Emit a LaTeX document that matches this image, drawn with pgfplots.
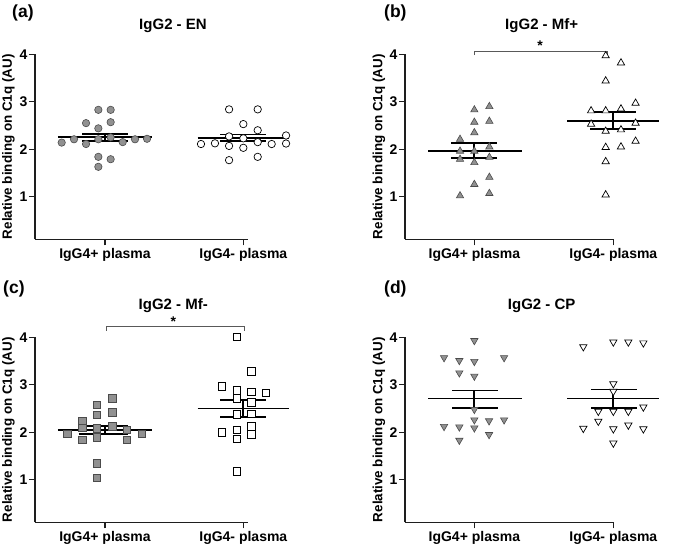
\documentclass[border=0pt]{standalone}
\usepackage{pgfplots}
\pgfplotsset{compat=1.18}
\usepackage{fontspec}
\setmainfont{Liberation Sans}
\definecolor{mfill}{RGB}{145,145,145}
\definecolor{medge}{RGB}{75,75,75}
\definecolor{axcol}{RGB}{30,30,30}
\pgfplotsset{
  panel/.style={
    scale only axis, height=185pt, ymin=0.103, ymax=4,
    axis lines=left, axis line style={-, line width=1.1pt, axcol},
    xtick={1,2}, xticklabels={IgG4+ plasma, IgG4- plasma}, ytick={1,2,3,4},
    tick align=outside, major tick length=6pt, tick style={line width=1.1pt, axcol},
    ticklabel style={font=\fontsize{14}{16}\selectfont\bfseries},
    yticklabel style={inner xsep=1.5pt},
    /pgf/number format/assume math mode=true,
    ylabel={Relative binding on C1q (AU)},
    ylabel style={font=\fontsize{13.4}{15}\selectfont\bfseries, at={(axis description cs:-0.125,0.5)}, anchor=center},
    clip=false,
  },
  meanline/.style={black, line width=1.9pt, no marks},
  gcirc/.style={only marks, mark=*, mark size=3.7pt, mark options={fill=mfill, draw=medge, line width=0.6pt}},
  wcirc/.style={only marks, mark=*, mark size=3.7pt, mark options={fill=white, draw=black, line width=0.7pt}},
  gtri/.style={only marks, mark=triangle*, mark size=4.2pt, mark options={fill=mfill, draw=medge, line width=0.6pt}},
  wtri/.style={only marks, mark=triangle*, mark size=4.2pt, mark options={fill=white, draw=black, line width=0.7pt}},
  gsq/.style={only marks, mark=square*, mark size=3.8pt, mark options={fill=mfill, draw=medge, line width=0.6pt}},
  wsq/.style={only marks, mark=square*, mark size=3.8pt, mark options={fill=white, draw=black, line width=0.7pt}},
  gdtri/.style={only marks, mark=triangle*, mark size=4.2pt, mark options={rotate=180, fill=mfill, draw=medge, line width=0.6pt}},
  wdtri/.style={only marks, mark=triangle*, mark size=4.2pt, mark options={rotate=180, fill=white, draw=black, line width=0.7pt}},
  bracket/.style={gray!70!black, line width=0.8pt, no marks},
}
\begin{document}
\begin{tikzpicture}
\path[use as bounding box] (0,0) rectangle (685pt,547pt);
% ---------------- (a)
\begin{axis}[panel, at={(35pt,307.7pt)}, anchor=south west, width=213.3pt, xmin=0.494, xmax=2.036]
\addplot[gcirc] coordinates {(0.687,2.14)(0.776,2.21)(0.863,2.11)(0.863,2.55)(0.952,2.83)(0.952,2.44)(0.952,2.21)(0.952,1.84)(0.952,1.63)(1.041,2.83)(1.041,2.57)(1.041,2.25)(1.041,1.79)(1.128,2.15)(1.217,2.21)(1.304,2.22)};
\addplot[wcirc] coordinates {(1.694,2.11)(1.795,2.125)(1.897,2.84)(1.897,2.27)(1.897,2.07)(1.897,1.77)(2.0,2.53)(2.0,2.23)(2.0,2.03)(2.104,2.84)(2.104,2.40)(2.104,2.15)(2.104,1.84)(2.205,2.11)(2.309,2.29)(2.309,2.12)};
\addplot[meanline] coordinates {(0.66,2.25)(1.34,2.25)};
\addplot[meanline] coordinates {(0.835,2.33)(1.165,2.33)};
\addplot[meanline] coordinates {(0.835,2.17)(1.165,2.17)};
\addplot[meanline] coordinates {(1,2.17)(1,2.33)};
\addplot[meanline] coordinates {(1.67,2.24)(2.33,2.24)};
\addplot[meanline] coordinates {(1.835,2.31)(2.165,2.31)};
\addplot[meanline] coordinates {(1.835,2.17)(2.165,2.17)};
\addplot[meanline] coordinates {(2,2.17)(2,2.31)};
\end{axis}
% ---------------- (b)
\begin{axis}[panel, at={(405pt,307.7pt)}, anchor=south west, width=209.3pt, xmin=0.501, xmax=2.007]
\addplot[gtri] coordinates {(0.897,2.21)(0.897,1.96)(0.897,1.79)(0.897,1.02)(1,2.83)(1,2.57)(1,2.35)(1,1.96)(1,1.72)(1,1.26)(1.108,2.90)(1.108,2.59)(1.108,2.05)(1.108,1.83)(1.108,1.41)(1.108,1.07)};
\addplot[wtri] coordinates {(1.945,3.97)(2.055,3.82)(1.945,3.44)(1.84,2.81)(1.84,2.53)(1.945,2.81)(1.945,2.38)(1.945,2.04)(1.945,1.74)(1.945,1.04)(2.055,2.85)(2.055,2.41)(2.055,2.05)(2.16,2.97)(2.16,2.55)(2.16,2.17)};
\addplot[meanline] coordinates {(0.67,1.97)(1.34,1.97)};
\addplot[meanline] coordinates {(0.835,2.125)(1.165,2.125)};
\addplot[meanline] coordinates {(0.835,1.82)(1.165,1.82)};
\addplot[meanline] coordinates {(1,1.82)(1,2.125)};
\addplot[meanline] coordinates {(1.67,2.60)(2.33,2.60)};
\addplot[meanline] coordinates {(1.835,2.79)(2.165,2.79)};
\addplot[meanline] coordinates {(1.835,2.42)(2.165,2.42)};
\addplot[meanline] coordinates {(2,2.42)(2,2.79)};
\addplot[bracket] coordinates {(1,3.985)(1,4.055)(1.955,4.055)(1.955,3.985)};
\node[font=\fontsize{14}{16}\selectfont\bfseries] at (axis cs:1.473,4.19) {*};
\end{axis}
% ---------------- (c)
\begin{axis}[panel, at={(35pt,24.7pt)}, anchor=south west, width=213.3pt, xmin=0.494, xmax=2.036]
\addplot[gsq] coordinates {(0.727,1.97)(0.836,2.24)(0.836,2.09)(0.836,1.84)(0.942,2.58)(0.942,2.37)(0.942,2.08)(0.942,1.89)(0.942,1.34)(0.942,1.04)(1.051,2.72)(1.051,2.42)(1.051,2.12)(1.157,2.05)(1.157,1.84)(1.265,1.97)};
\addplot[wsq] coordinates {(1.952,4.01)(2.056,3.28)(1.844,2.97)(1.952,2.88)(1.952,2.72)(1.952,2.38)(1.952,2.05)(1.952,1.86)(1.952,1.17)(2.056,2.85)(2.056,2.63)(2.056,2.39)(2.056,2.12)(2.056,1.96)(1.844,2.0)(2.164,2.83)};
\addplot[meanline] coordinates {(0.66,2.04)(1.34,2.04)};
\addplot[meanline] coordinates {(0.81,2.13)(1.165,2.13)};
\addplot[meanline] coordinates {(0.81,1.955)(1.165,1.955)};
\addplot[meanline] coordinates {(1,1.955)(1,2.13)};
\addplot[meanline] coordinates {(1.67,2.50)(2.33,2.50)};
\addplot[meanline] coordinates {(1.835,2.67)(2.165,2.67)};
\addplot[meanline] coordinates {(1.835,2.33)(2.165,2.33)};
\addplot[meanline] coordinates {(2,2.33)(2,2.67)};
\addplot[bracket] coordinates {(1.007,4.14)(1.007,4.22)(2.01,4.22)(2.01,4.14)};
\node[font=\fontsize{14}{16}\selectfont\bfseries] at (axis cs:1.494,4.33) {*};
\end{axis}
% ---------------- (d)
\begin{axis}[panel, at={(405pt,24.7pt)}, anchor=south west, width=209.3pt, xmin=0.501, xmax=2.007]
\addplot[gdtri] coordinates {(0.782,3.57)(0.782,2.12)(0.892,3.51)(0.892,3.25)(0.892,2.11)(0.892,1.83)(1,3.93)(1,3.49)(1,3.18)(1,2.48)(1,2.26)(1,2.09)(1.106,2.24)(1.106,1.95)(1.214,3.57)(1.214,2.26)};
\addplot[wdtri] coordinates {(1.784,3.80)(1.784,2.08)(1.892,2.44)(1.892,2.23)(2,3.90)(2,3.02)(2,2.86)(2,2.44)(2,2.07)(2,1.77)(2.108,3.90)(2.108,2.44)(2.108,2.15)(2.216,3.88)(2.216,2.53)(2.216,2.07)};
\addplot[meanline] coordinates {(0.67,2.71)(1.34,2.71)};
\addplot[meanline] coordinates {(0.84,2.88)(1.17,2.88)};
\addplot[meanline] coordinates {(0.84,2.52)(1.17,2.52)};
\addplot[meanline] coordinates {(1,2.52)(1,2.88)};
\addplot[meanline] coordinates {(1.67,2.71)(2.33,2.71)};
\addplot[meanline] coordinates {(1.84,2.90)(2.17,2.90)};
\addplot[meanline] coordinates {(1.84,2.51)(2.17,2.51)};
\addplot[meanline] coordinates {(2,2.51)(2,2.90)};
\end{axis}
% ---------------- titles and panel labels
\begin{scope}[every node/.style={inner sep=0pt}]
\node[anchor=base west, font=\fontsize{17.5}{19}\selectfont\bfseries] at (12pt,529.9pt) {(a)};
\node[anchor=base west, font=\fontsize{17.5}{19}\selectfont\bfseries] at (384pt,529.9pt) {(b)};
\node[anchor=base west, font=\fontsize{17.5}{19}\selectfont\bfseries] at (3pt,253.7pt) {(c)};
\node[anchor=base west, font=\fontsize{17.5}{19}\selectfont\bfseries] at (384pt,253.7pt) {(d)};
\node[anchor=base, font=\fontsize{15}{17}\selectfont\bfseries] at (173pt,517pt) {IgG2 - EN};
\node[anchor=base, font=\fontsize{15}{17}\selectfont\bfseries] at (541.7pt,517pt) {IgG2 - Mf+};
\node[anchor=base, font=\fontsize{15}{17}\selectfont\bfseries] at (173.3pt,237.3pt) {IgG2 - Mf-};
\node[anchor=base, font=\fontsize{15}{17}\selectfont\bfseries] at (541.7pt,237.3pt) {IgG2 - CP};
\end{scope}
\end{tikzpicture}
\end{document}
